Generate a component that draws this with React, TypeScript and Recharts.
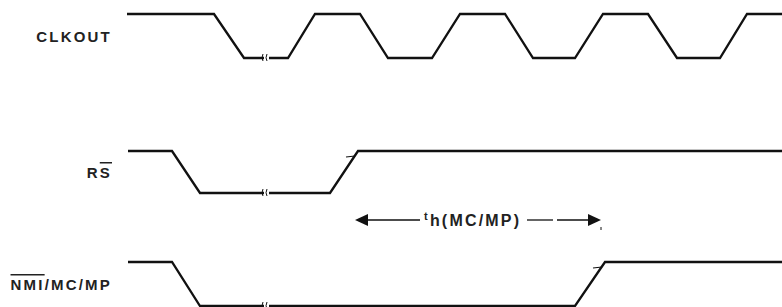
import { ComposedChart, Line, XAxis, YAxis, ReferenceDot, ReferenceLine } from 'recharts'

// signal edges (x = time, level 1 = high, 0 = low)
const clkoutTimes = [127, 214, 244, 288, 315, 360, 388, 432, 460, 505, 533, 575, 603, 648, 677, 720, 747, 782]
const clkoutLevels = [1, 1, 0, 0, 1, 1, 0, 0, 1, 1, 0, 0, 1, 1, 0, 0, 1, 1]
const rsTimes = [128, 172, 200, 330, 358, 782]
const rsLevels = [1, 1, 0, 0, 1, 1]
const nmiTimes = [128, 172, 200, 575, 605, 782]
const nmiLevels = [1, 1, 0, 0, 1, 1]

// hold time th(MC/MP): from RS rising to NMI/MC/MP rising
const holdStart = 355
const holdEnd = 601
const breakTimes = [266, 266, 266]

// lane layout (vertical position of the high level and the swing)
const LANE_TOP = [14, 151, 262]
const SWING = [44, 42, 44]
const ARROW_Y = 220
const LABEL_X = 112

const INK = '#111'
const TEXT = '#222'
const FONT = 'Arial, "Liberation Sans", Helvetica, sans-serif'

const toPoints = (times: number[], levels: number[], lane: number) =>
  times.map((t, i) => ({ t, v: LANE_TOP[lane] + (1 - levels[i]) * SWING[lane] }))

const clkout = toPoints(clkoutTimes, clkoutLevels, 0)
const rs = toPoints(rsTimes, rsLevels, 1)
const nmi = toPoints(nmiTimes, nmiLevels, 2)

function Label({ cx, cy, lane }: any) {
  const common = {
    x: cx, y: cy, textAnchor: 'end' as const, fontFamily: FONT, fontSize: 15,
    fontWeight: 700, fill: TEXT, letterSpacing: 2.2, dominantBaseline: 'central' as const,
  }
  if (lane === 0) return <text {...common}>CLKOUT</text>
  if (lane === 1) return (
    <text {...common}>R<tspan style={{ textDecoration: 'overline' }}>S</tspan></text>
  )
  return (
    <text {...common}>
      <tspan style={{ textDecoration: 'overline' }}>NMI</tspan>/MC/MP
    </text>
  )
}

function BreakMark({ cx, cy }: any) {
  return (
    <g>
      <rect x={cx - 2} y={cy - 2} width={5} height={4} fill="#fff" />
      <path d={`M${cx - 3},${cy - 4} q-2,4 0,7`} stroke={INK} strokeWidth={1} fill="none" />
      <path d={`M${cx + 1},${cy - 4} q-2,4 0,7`} stroke={INK} strokeWidth={1} fill="none" />
    </g>
  )
}

function Head({ cx, cy, dir }: any) {
  const d = dir < 0
    ? `M${cx},${cy} L${cx + 13},${cy - 6} L${cx + 13},${cy + 6} Z`
    : `M${cx},${cy} L${cx - 13},${cy - 6} L${cx - 13},${cy + 6} Z`
  return <path d={d} fill={INK} />
}

function HoldText({ cx, cy }: any) {
  return (
    <text x={cx} y={cy} fontFamily={FONT} fill={TEXT} fontWeight={700} letterSpacing={2.2}>
      <tspan fontSize={11} dy={-2}>t</tspan>
      <tspan fontSize={16} dy={6}>h(MC/MP)</tspan>
    </text>
  )
}

function EdgeTick({ cx, cy }: any) {
  return <line x1={cx - 5} y1={cy} x2={cx + 4} y2={cy - 1} stroke={INK} strokeWidth={1.2} />
}

export default function App() {
  return (
    <div style={{ position: 'fixed', left: 0, top: 0, background: '#fff' }}>
      <ComposedChart width={782} height={307} margin={{ top: 0, right: 0, bottom: 0, left: 0 }}>
        <XAxis type="number" dataKey="t" domain={[0, 782]} hide allowDataOverflow />
        <YAxis type="number" domain={[0, 307]} reversed hide allowDataOverflow />
        {[clkout, rs, nmi].map((d, i) => (
          <Line key={i} data={d} dataKey="v" type="linear" stroke={INK} strokeWidth={2.3}
            dot={false} activeDot={false} isAnimationActive={false} />
        ))}

        {LANE_TOP.map((top, i) => (
          <ReferenceDot key={`l${i}`} x={LABEL_X} y={top + SWING[i] / 2} r={0}
            shape={(p: any) => <Label {...p} lane={i} />} />
        ))}
        {breakTimes.map((t, i) => (
          <ReferenceDot key={`b${i}`} x={t} y={LANE_TOP[i] + SWING[i]} r={0}
            shape={(p: any) => <BreakMark {...p} />} />
        ))}

        <ReferenceLine segment={[{ x: holdStart + 4, y: ARROW_Y }, { x: 420, y: ARROW_Y }]} stroke={INK} strokeWidth={1.3} />
        <ReferenceLine segment={[{ x: 527, y: ARROW_Y }, { x: 553, y: ARROW_Y }]} stroke={INK} strokeWidth={1.3} />
        <ReferenceLine segment={[{ x: 557, y: ARROW_Y }, { x: holdEnd - 4, y: ARROW_Y }]} stroke={INK} strokeWidth={1.3} />
        <ReferenceDot x={holdStart} y={ARROW_Y} r={0} shape={(p: any) => <Head {...p} dir={-1} />} />
        <ReferenceDot x={holdEnd} y={ARROW_Y} r={0} shape={(p: any) => <Head {...p} dir={1} />} />
        <ReferenceDot x={424} y={ARROW_Y + 2} r={0} shape={(p: any) => <HoldText {...p} />} />
        <ReferenceDot x={holdEnd} y={ARROW_Y + 8} r={0}
          shape={(p: any) => <line x1={p.cx} y1={p.cy - 1} x2={p.cx} y2={p.cy + 2} stroke={INK} strokeWidth={1} />} />

        <ReferenceDot x={351} y={LANE_TOP[1] + 6} r={0} shape={(p: any) => <EdgeTick {...p} />} />
        <ReferenceDot x={598} y={LANE_TOP[2] + 6} r={0} shape={(p: any) => <EdgeTick {...p} />} />
      </ComposedChart>
    </div>
  )
}
